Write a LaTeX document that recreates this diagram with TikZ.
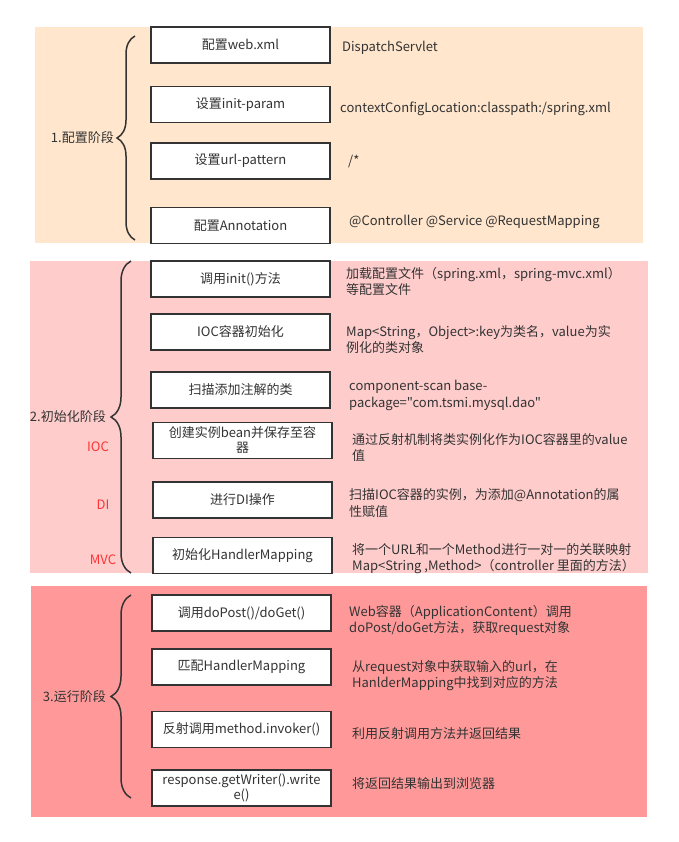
\documentclass[tikz,border=0pt]{standalone}
\usepackage{fontspec}
\setmainfont{Noto Sans CJK SC}[Ligatures=TeXOff]
\usetikzlibrary{positioning,decorations.pathreplacing}

\definecolor{inkgray}{HTML}{333333}
\definecolor{stageone}{HTML}{FFE6CC}
\definecolor{stagetwo}{HTML}{FFCCCC}
\definecolor{stagethree}{HTML}{FF9999}
\definecolor{tagred}{HTML}{FF3333}

\begin{document}
\begin{tikzpicture}[
    x=1pt, y=-1pt,
    stepbox/.style={draw=inkgray, line width=1.5pt, fill=white, text=inkgray, align=center,
        minimum width=179pt, minimum height=36pt, inner sep=2pt,
        font=\fontsize{13}{15}\selectfont},
    note/.style={anchor=west, align=left, text=inkgray, inner sep=0pt, yshift=-1.5pt,
        font=\fontsize{13}{16.5}\selectfont},
    phase/.style={text=inkgray, inner sep=1pt, font=\fontsize{13}{15}\selectfont},
    tag/.style={text=tagred, inner sep=0pt, font=\fontsize{13}{15}\selectfont},
    bracket/.style={draw=inkgray, line width=1.5pt, decorate}
]
\useasboundingbox (0,0) rectangle (678,842);

% stage backgrounds
\fill[stageone] (35,27) rectangle (643,243);
\fill[stagetwo] (30,261) rectangle (648,573);
\fill[stagethree] (31,586) rectangle (647,817);

% 1. config
\node[stepbox] (c1) at (240.5,45) {配置web.xml};
\node[stepbox] (c2) at (240.5,104.5) {设置init-param};
\node[stepbox] (c3) at (240.5,161) {设置url-pattern};
\node[stepbox] (c4) at (240.5,225.5) {配置Annotation};
\node[note] (c1n) at (342,46) {DispatchServlet};
\node[note] (c2n) at (340,107) {contextConfigLocation:classpath:/spring.xml};
\node[note] (c3n) at (348,160) {/*};
\node[note] (c4n) at (349,220) {@Controller @Service @RequestMapping};

% 2. init
\node[stepbox] (i1) at (240.5,279) {调用init()方法};
\node[stepbox] (i2) at (240.5,332) {IOC容器初始化};
\node[stepbox] (i3) at (240.5,390) {扫描添加注解的类};
\node[stepbox] (i4) at (242.5,440.5) {创建实例bean并保存至容\\器};
\node[stepbox] (i5) at (242.5,500) {进行DI操作};
\node[stepbox] (i6) at (242.5,555.5) {初始化HandlerMapping};
\node[note] (i1n) at (346,280) {加载配置文件（spring.xml，spring-mvc.xml）\\等配置文件};
\node[note] (i2n) at (346,338) {Map<String，Object>:key为类名，value为实\\例化的类对象};
\node[note] (i3n) at (349,394) {component-scan base-\\package="com.tsmi.mysql.dao"};
\node[note] (i4n) at (352,446) {通过反射机制将类实例化作为IOC容器里的value\\值};
\node[note] (i5n) at (349,501.5) {扫描IOC容器的实例，为添加@Annotation的属\\性赋值};
\node[note] (i6n) at (352,557) {将一个URL和一个Method进行一对一的关联映射\\Map<String ,Method>（controller 里面的方法）};
\node[tag] (ioc) at (98,447) {IOC};
\node[tag] (di) at (103,505) {DI};
\node[tag] (mvc) at (103,560) {MVC};

% 3. run
\node[stepbox] (r1) at (241.5,613) {调用doPost()/doGet()};
\node[stepbox] (r2) at (241.5,667) {匹配HandlerMapping};
\node[stepbox] (r3) at (241.5,729.5) {反射调用method.invoker()};
\node[stepbox] (r4) at (241.5,788) {response.getWriter().write\\e()};
\node[note] (r1n) at (349,619) {Web容器（ApplicationContent）调用\\doPost/doGet方法，获取request对象};
\node[note] (r2n) at (352,674) {从request对象中获取输入的url，在\\HanlderMapping中找到对应的方法};
\node[note] (r3n) at (352,732) {利用反射调用方法并返回结果};
\node[note] (r4n) at (352,782) {将返回结果输出到浏览器};

% braces
\coordinate (b1top) at (135,36);
\coordinate (b1bot) at (135,240);
\coordinate (b2top) at (131,261);
\coordinate (b2bot) at (131,573);
\coordinate (b3top) at (131,595);
\coordinate (b3bot) at (131,798);
\draw[bracket, decoration={brace, amplitude=18pt}] (b1bot) -- (b1top);
\draw[bracket, decoration={brace, amplitude=20pt}] (b2bot) -- (b2top);
\draw[bracket, decoration={brace, amplitude=20pt}] (b3bot) -- (b3top);
\coordinate (tip1) at (117,138);
\coordinate (tip2) at (111,417);
\coordinate (tip3) at (111,696.5);
\node[phase, left=2pt of tip1] (p1) {1.配置阶段};
\node[phase, left=4pt of tip2] (p2) {2.初始化阶段};
\node[phase, left=4pt of tip3] (p3) {3.运行阶段};
\end{tikzpicture}
\end{document}
